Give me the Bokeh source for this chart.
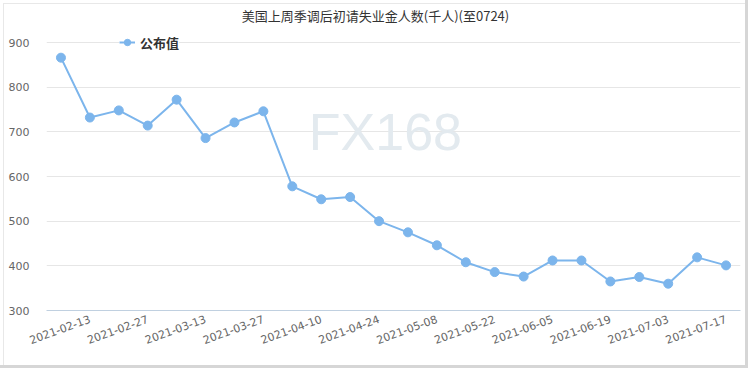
import math
from bokeh.plotting import figure
from bokeh.models import Range1d, FixedTicker, Label, Legend, LegendItem
from bokeh.core.properties import value
from bokeh.embed import file_html
from bokeh.resources import INLINE

dates = ["2021-02-06", "2021-02-13", "2021-02-20", "2021-02-27", "2021-03-06", "2021-03-13",
         "2021-03-20", "2021-03-27", "2021-04-03", "2021-04-10", "2021-04-17", "2021-04-24",
         "2021-05-01", "2021-05-08", "2021-05-15", "2021-05-22", "2021-05-29", "2021-06-05",
         "2021-06-12", "2021-06-19", "2021-06-26", "2021-07-03", "2021-07-10", "2021-07-17"]
claims = [866, 732, 748, 714, 772, 686, 721, 746, 578, 549, 554, 500,
          475, 446, 408, 386, 376, 412, 412, 365, 375, 360, 419, 401]
y_ticks = [300, 400, 500, 600, 700, 800, 900]
title_text = "美国上周季调后初请失业金人数(千人)(至0724)"
series_name = "公布值"
watermark = "FX168"

xs = list(range(len(dates)))
label_idx = xs[1::2]

# frame spans from the canvas top (y=0) to the x axis (y=310); 900 sits at y=42
y_lo, y_hi = 300, 900
frame_top_value = y_hi + 42 * (y_hi - y_lo) / 268

p = figure(width=750, height=370, output_backend="svg", toolbar_location=None,
           x_range=Range1d(-0.5, len(dates) - 0.5), y_range=Range1d(y_lo, frame_top_value),
           min_border_left=46, min_border_right=10, min_border_top=0, min_border_bottom=60)
p.outline_line_color = None
p.background_fill_alpha = 0
p.border_fill_alpha = 0
p.styles = {"box-shadow": "inset -2px -2px 0 0 #ffffff, inset -5px -5px 0 0 #d6d6d6, "
                          "inset 3px 3px 0 0 #ffffff, inset 4px 4px 0 0 #e8e8e8",
            "background-color": "#ffffff"}

# watermark
p.text(x=[11.22], y=[700], text=[watermark], text_font=value("Liberation Sans"),
       text_font_size="52px", text_color="#e3eaef", text_align="center", text_baseline="middle")

line_color = "#7cb5ec"
r_line = p.line(xs, claims, line_color=line_color, line_width=2)
r_pts = p.scatter(xs, claims, size=9, fill_color=line_color, line_color=line_color)

# axes
p.yaxis.ticker = FixedTicker(ticks=y_ticks)
p.yaxis.axis_line_color = None
p.yaxis.major_tick_line_color = None
p.yaxis.minor_tick_line_color = None
p.yaxis.major_label_standoff = 11
p.yaxis.major_label_text_font = "DejaVu Sans"
p.yaxis.major_label_text_font_size = "11px"
p.yaxis.major_label_text_color = "#666666"

p.xaxis.ticker = FixedTicker(ticks=label_idx)
p.xaxis.major_label_overrides = {i: dates[i] for i in label_idx}
p.xaxis.major_label_orientation = math.radians(20)
p.xaxis.axis_line_color = "#c0d0e0"
p.xaxis.major_tick_line_color = None
p.xaxis.minor_tick_line_color = None
p.xaxis.major_label_standoff = 2
p.xaxis.major_label_text_font = "DejaVu Sans"
p.xaxis.major_label_text_font_size = "11px"
p.xaxis.major_label_text_color = "#666666"

p.xgrid.grid_line_color = None
p.ygrid.ticker = FixedTicker(ticks=y_ticks[1:])
p.ygrid.grid_line_color = "#e6e6e6"

# title (screen units relative to the plot frame: x from its left, y from its bottom)
p.add_layout(Label(x=329, y=295, x_units="screen", y_units="screen", text=title_text,
                   text_font="Noto Sans CJK SC", text_font_size="13px", text_color="#333333",
                   text_align="center", text_baseline="middle"))

legend = Legend(items=[LegendItem(label=series_name, renderers=[r_line, r_pts])],
                location=(73, 258), padding=3, margin=0, spacing=0,
                glyph_width=16, glyph_height=20, label_height=20, label_standoff=5,
                label_text_font="Noto Sans CJK SC", label_text_font_size="13px",
                label_text_font_style="bold", label_text_color="#333333",
                background_fill_color="white", background_fill_alpha=1, border_line_color=None)
p.add_layout(legend, "center")

open("out.html", "w").write(file_html(p, INLINE))
